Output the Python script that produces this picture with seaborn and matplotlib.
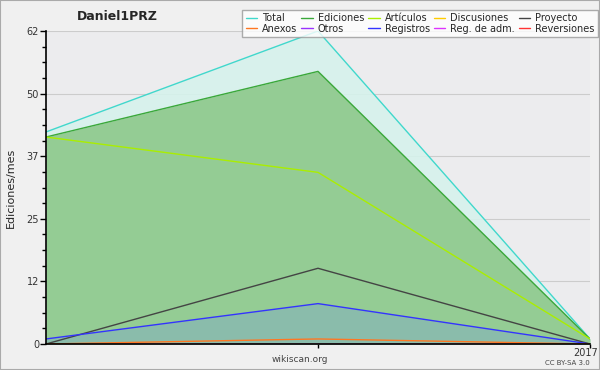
import numpy as np
import pandas as pd
import matplotlib
matplotlib.use('Agg')
import matplotlib.pyplot as plt
import matplotlib.transforms as mtransforms
import seaborn as sns
from matplotlib.ticker import FixedLocator, AutoMinorLocator

sns.set_style('ticks')
plt.rcParams['font.family'] = ['DejaVu Sans']

# datos
meses = [0, 1, 2]
series = ['Total', 'Ediciones', 'Artículos', 'Discusiones', 'Proyecto',
          'Anexos', 'Otros', 'Registros', 'Reg. de adm.', 'Reversiones']
total = [42, 62, 1]
ediciones = [41, 54, 1]
articulos = [41, 34, 1]
discusiones = [0, 0, 0]
proyecto = [0, 15, 0]
anexos = [0, 1, 0]
otros = [0, 0, 0]
registros = [1, 8, 0]
reg_adm = [0, 0, 0]
reversiones = [0, 0, 0]
valores = [total, ediciones, articulos, discusiones, proyecto,
           anexos, otros, registros, reg_adm, reversiones]
colores = ['#40d8cc', '#3aa83a', '#aaee00', '#ffcc00', '#444444',
           '#ff7722', '#9933ff', '#3333ff', '#dd33ff', '#ff3333']

df = pd.DataFrame({
    'mes': np.tile(meses, len(series)),
    'serie': np.repeat(series, len(meses)),
    'valor': np.concatenate(valores),
})

fig = plt.figure(figsize=(6, 3.7), dpi=100, facecolor='#f0f0f0')
ax = fig.add_axes([46/600, 1-344/370, 544/600, 313/370])
ax.set_facecolor('#ececee')

# areas rellenas
ax.fill_between(meses, 0, total, color='#d6f2ec', alpha=0.9, lw=0)
ax.fill_between(meses, 0, ediciones, color='#94cc94', lw=0)
ax.fill_between(meses, 0, registros, color='#7a9fd8', alpha=0.35, lw=0)

# orden de dibujo: la serie naranja queda visible sobre la base
orden = ['Total', 'Ediciones', 'Artículos', 'Discusiones', 'Otros',
         'Reg. de adm.', 'Reversiones', 'Proyecto', 'Registros', 'Anexos']
pal = dict(zip(series, colores))
sns.lineplot(data=df, x='mes', y='valor', hue='serie', hue_order=orden,
             palette=pal, lw=1, ax=ax, legend=False)

ax.set_xlim(0, 2)
ax.set_ylim(0, 62)
ax.yaxis.set_major_locator(FixedLocator(np.linspace(0, 62, 6)))
ax.set_yticklabels(['0', '12', '25', '37', '50', '62'])
ax.yaxis.set_minor_locator(AutoMinorLocator(4))
ax.set_xticks([1, 2])
ax.set_xticklabels(['', '2017'])
ax.tick_params(axis='both', which='both', direction='out', labelsize=7,
               colors='black', labelcolor='#333333', length=4, width=1, pad=1)
ax.tick_params(axis='y', which='minor', length=3)
ax.tick_params(axis='x', length=3, pad=0)
# etiqueta 2017 alineada a la derecha para que no se corte
lab = ax.get_xticklabels()[1]
lab.set_horizontalalignment('right')
lab.set_transform(lab.get_transform() +
                  mtransforms.ScaledTranslation(0.08, 0, fig.dpi_scale_trans))
ax.grid(axis='y', which='major', color='#cccccc', lw=0.8)
ax.set_axisbelow(True)
for s in ['top', 'right']:
    ax.spines[s].set_visible(False)
for s in ['left', 'bottom']:
    ax.spines[s].set_linewidth(1.2)
    ax.spines[s].set_color('black')
ax.set_xlabel('')
ax.set_ylabel('Ediciones/mes', fontsize=8, labelpad=8)

# leyenda (columnas de 2 filas)
handles = [plt.Line2D([], [], color=pal[s], lw=1) for s in series]
idx = [0, 5, 1, 6, 2, 7, 3, 8, 4, 9]
leg = fig.legend([handles[i] for i in idx], [series[i] for i in idx],
                 ncol=5, loc='upper right', bbox_to_anchor=(598/600, 1-10/370),
                 fontsize=7, frameon=True, fancybox=False, handlelength=1.2,
                 handletextpad=0.5, columnspacing=0.4, labelspacing=0.05,
                 borderpad=0.35, borderaxespad=0, shadow=False)
leg.get_frame().set_edgecolor('#999999')
leg.get_frame().set_linewidth(1)
leg.get_frame().set_facecolor('white')

fig.text(117/600, 1-17/370, 'Daniel1PRZ', fontsize=9, fontweight='bold',
         ha='center', va='center')
fig.text(300/600, 1-359/370, 'wikiscan.org', fontsize=6.5, color='#444444',
         ha='center', va='center')
fig.text(567/600, 1-363/370, 'CC BY-SA 3.0', fontsize=5, color='#444444',
         ha='center', va='center')

fig.patches.append(plt.Rectangle((0, 0), 1, 1, transform=fig.transFigure,
                                 fill=False, edgecolor='#aaaaaa', lw=1.5))
fig.savefig('out.png', dpi=100, facecolor=fig.get_facecolor())
